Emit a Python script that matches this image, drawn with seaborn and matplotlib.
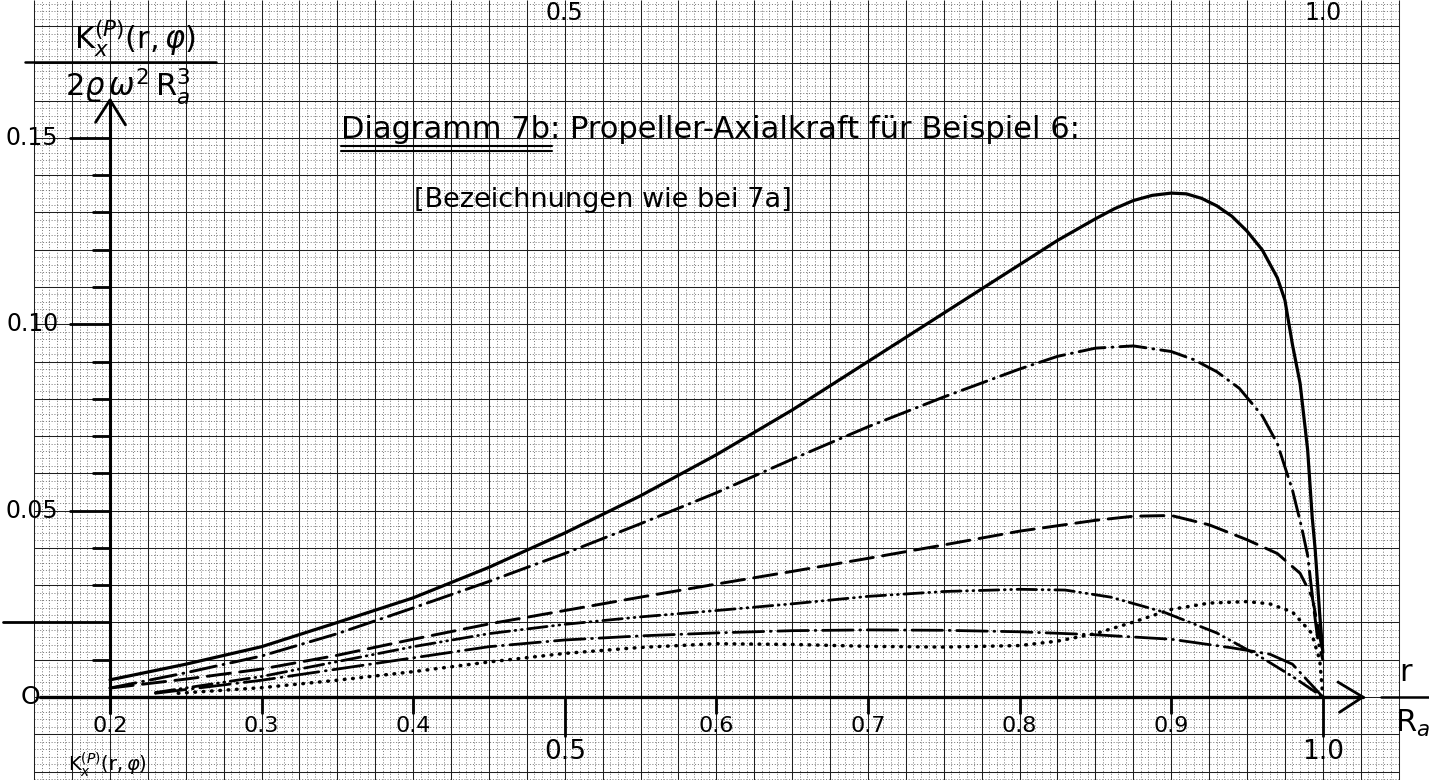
import numpy as np
import matplotlib
matplotlib.use("Agg")
import matplotlib.pyplot as plt
import seaborn as sns

# r / R_a positions and axial force coefficients K_x / (2 rho omega^2 R_a^3)
r_solid = [0.20, 0.25, 0.30, 0.35, 0.40, 0.45, 0.50, 0.55, 0.60, 0.65, 0.70, 0.75,
           0.80, 0.825, 0.85, 0.8625, 0.875, 0.8875, 0.90, 0.91, 0.92, 0.93, 0.94,
           0.95, 0.96, 0.97, 0.975, 0.98, 0.985, 0.99, 0.993, 0.995, 0.998, 1.0]
k_solid = [0.0046, 0.0088, 0.0135, 0.0200, 0.0266, 0.0348, 0.0440, 0.0540, 0.0650,
           0.0770, 0.0900, 0.1030, 0.1160, 0.1225, 0.1283, 0.1310, 0.1332, 0.1346,
           0.1352, 0.1350, 0.1338, 0.1318, 0.1290, 0.1250, 0.1200, 0.1125, 0.1065,
           0.0945, 0.0842, 0.0663, 0.0483, 0.0394, 0.0220, 0.0120]

r_dashdot = [0.20, 0.25, 0.30, 0.35, 0.40, 0.45, 0.50, 0.55, 0.60, 0.65, 0.70, 0.75,
             0.80, 0.825, 0.85, 0.875, 0.90, 0.915, 0.93, 0.945, 0.96, 0.97, 0.98,
             0.986, 0.99, 0.994, 0.997, 1.0]
k_dashdot = [0.0024, 0.0065, 0.0110, 0.0170, 0.0239, 0.0310, 0.0385, 0.0465, 0.0548,
             0.0638, 0.0725, 0.0805, 0.0880, 0.0914, 0.0936, 0.0942, 0.0927, 0.0905,
             0.0873, 0.0828, 0.0755, 0.0680, 0.0555, 0.0456, 0.0380, 0.0240, 0.0145,
             0.0100]

r_dash = [0.20, 0.25, 0.30, 0.35, 0.40, 0.45, 0.50, 0.55, 0.60, 0.65, 0.70, 0.75,
          0.80, 0.85, 0.875, 0.90, 0.925, 0.95, 0.97, 0.985, 0.993, 1.0]
k_dash = [0.0024, 0.0048, 0.0075, 0.0112, 0.0155, 0.0196, 0.0232, 0.0268, 0.0303,
          0.0337, 0.0372, 0.0408, 0.0445, 0.0474, 0.0485, 0.0487, 0.0462, 0.0422,
          0.0385, 0.0332, 0.0268, 0.0120]

r_dashdotdot = [0.23, 0.30, 0.35, 0.40, 0.45, 0.50, 0.55, 0.60, 0.65, 0.70, 0.75,
                0.80, 0.83, 0.86, 0.895, 0.93, 0.96, 0.98, 1.0]
k_dashdotdot = [0.0012, 0.0055, 0.0095, 0.0135, 0.0170, 0.0195, 0.0215, 0.0232,
                0.0250, 0.0270, 0.0283, 0.0289, 0.0287, 0.0268, 0.0228, 0.0172,
                0.0105, 0.0055, 0.0]

r_longdashdot = [0.23, 0.30, 0.35, 0.40, 0.45, 0.50, 0.55, 0.60, 0.65, 0.70, 0.75,
                 0.80, 0.85, 0.90, 0.94, 0.965, 0.98, 1.0]
k_longdashdot = [0.0010, 0.0045, 0.0075, 0.0105, 0.0135, 0.0153, 0.0164, 0.0172,
                 0.0178, 0.0180, 0.0179, 0.0175, 0.0167, 0.0155, 0.0132, 0.0115,
                 0.0088, 0.0]

r_dotted = [0.245, 0.30, 0.35, 0.40, 0.45, 0.50, 0.55, 0.60, 0.65, 0.70, 0.75, 0.80,
            0.825, 0.85, 0.875, 0.90, 0.925, 0.95, 0.965, 0.98, 0.9925, 0.998, 1.0]
k_dotted = [0.0010, 0.0025, 0.0045, 0.0068, 0.0094, 0.0117, 0.0133, 0.0143, 0.0141,
            0.0136, 0.0134, 0.0138, 0.0150, 0.0170, 0.0201, 0.0235, 0.0252, 0.0256,
            0.0250, 0.0228, 0.0172, 0.0099, 0.0]

x_ticks = [0.2, 0.3, 0.4, 0.5, 0.6, 0.7, 0.8, 0.9, 1.0]
x_tick_labels = ["0.2", "0.3", "0.4", "0.5", "0.6", "0.7", "0.8", "0.9", "1.0"]
y_ticks = [0.05, 0.10, 0.15]
y_tick_labels = ["0.05", "0.10", "0.15"]

sns.set_theme(style="white")
plt.rcParams["font.family"] = ["DejaVu Sans"]
plt.rcParams["mathtext.fontset"] = "dejavusans"

fig = plt.figure(figsize=(14.29, 7.80), dpi=100)
ax = fig.add_axes([0, 0, 1, 1])
X0, X1 = 0.127441, 1.070053
Y0, Y1 = -0.022270, 0.187014
ax.set_xlim(X0, X1)
ax.set_ylim(Y0, Y1)
ax.axis("off")

# millimetre paper
ink = "black"
fine_x = np.arange(0.15, 1.0501, 0.005)
fine_y = np.arange(-0.022, 0.1871, 0.002)
ax.vlines(fine_x, Y0, Y1, colors="0.3", lw=0.5, linestyles=(0, (1.5, 2.6)), zorder=0)
ax.hlines(fine_y, 0.15, 1.05, colors="0.3", lw=0.5, linestyles=(0, (1.5, 2.6)), zorder=0)
mid_x = np.arange(0.15, 1.0501, 0.025)
mid_y = np.arange(-0.02, 0.1801, 0.01)
ax.vlines(mid_x, Y0, Y1, colors="0.12", lw=0.75, zorder=0)
ax.hlines(mid_y, 0.15, 1.05, colors="0.12", lw=0.75, zorder=0)

# axes with arrows
ax.plot([0.154, 1.0264], [0, 0], color=ink, lw=2.4, solid_capstyle="round", zorder=3)
ax.plot([1.010, 1.0264, 1.011], [0.0040, 0, -0.0041], color=ink, lw=2.0,
        solid_capstyle="round", zorder=3)
ax.plot([0.2, 0.2], [-0.0043, 0.1602], color=ink, lw=2.2, zorder=3)
ax.plot([0.1905, 0.2, 0.2102], [0.1542, 0.1602, 0.1535], color=ink, lw=2.0,
        solid_capstyle="round", zorder=3)

for xv in x_ticks:
    low = -0.0105 if xv in (0.5, 1.0) else -0.0042
    ax.plot([xv, xv], [0, low], color=ink, lw=2.0, zorder=3)

for yv in np.arange(0.01, 0.1401, 0.01):
    yv = round(yv, 2)
    if yv in y_ticks:
        left = 0.2 - 0.0264
    elif yv == 0.02:
        left = 0.2 - 0.0706
    else:
        left = 0.2 - 0.0112
    ax.plot([left, 0.2], [yv, yv], color=ink, lw=2.0, zorder=3)
ax.plot([0.2 - 0.0264, 0.2], [0.15, 0.15], color=ink, lw=2.0, zorder=3)

# curves
styles = [
    (r_solid, k_solid, "-", 2.3),
    (r_dashdot, k_dashdot, (0, (9, 2.4, 0.3, 2.4)), 2.1),
    (r_dash, k_dash, (0, (8, 3.2)), 2.1),
    (r_dashdotdot, k_dashdotdot, (0, (7, 2.0, 0.3, 2.0, 0.3, 2.0)), 2.0),
    (r_longdashdot, k_longdashdot, (0, (11, 2.4, 0.3, 2.4)), 2.0),
    (r_dotted, k_dotted, (0, (0.2, 2.2)), 2.5),
]
for rr, kk, ls, lw in styles:
    sns.lineplot(x=rr, y=kk, ax=ax, color=ink, lw=lw, estimator=None, sort=False,
                 zorder=4)
    line = ax.lines[-1]
    line.set_linestyle(ls)
    line.set_dash_capstyle("round")
    line.set_solid_capstyle("round")
    line.set_solid_joinstyle("round")

# tick labels
for xv, lab in zip(x_ticks, x_tick_labels):
    big = xv in (0.5, 1.0)
    ax.text(xv, -0.0148 if big else -0.0078, lab, ha="center", va="center",
            fontsize=19 if big else 16, color=ink, zorder=5)
for yv, lab in zip(y_ticks, y_tick_labels):
    ax.text(0.2 - 0.034, yv, lab, ha="right", va="center", fontsize=17, color=ink,
            zorder=5)
ax.text(0.2 - 0.0525, 0.0, "O", ha="center", va="center", fontsize=18, color=ink,
        zorder=5)

# labels of the neighbouring diagrams at the sheet edges
ax.text(0.5, Y1 - 0.0002, "0.5", ha="center", va="top", fontsize=17, color=ink)
ax.text(1.0, Y1 - 0.0002, "1.0", ha="center", va="top", fontsize=17, color=ink)
ax.text(0.172, Y0 + 0.0002, r"$\mathrm{K}_x^{(P)}(\mathrm{r},\varphi)$", ha="left",
        va="bottom", fontsize=14, color=ink)

# axis titles as fractions
ax.text(0.2165, 0.1712, r"$\mathrm{K}_x^{(P)}(\mathrm{r},\varphi)$", ha="center",
        va="bottom", fontsize=22, color=ink)
ax.plot([0.2 - 0.0562, 0.2 + 0.0699], [0.1704, 0.1704], color=ink, lw=1.8)
ax.text(0.2119, 0.1693, r"$2\varrho\,\omega^2\, \mathrm{R}_a^3$", ha="center",
        va="top", fontsize=22, color=ink)

ax.text(1.0549, 0.0026, r"$\mathrm{r}$", ha="center", va="bottom", fontsize=22,
        color=ink)
ax.plot([1.0385, 1.0700], [0.0, 0.0], color=ink, lw=1.8)
ax.text(1.0595, -0.0030, r"$\mathrm{R}_a$", ha="center", va="top", fontsize=22,
        color=ink)

# heading
ax.text(0.3524, 0.1500, "Diagramm 7b: Propeller-Axialkraft für Beispiel 6:",
        ha="left", va="baseline", fontsize=22, color=ink, zorder=5)
ax.plot([0.3524, 0.4916], [0.1478, 0.1478], color=ink, lw=1.5)
ax.plot([0.3524, 0.4916], [0.1466, 0.1466], color=ink, lw=1.5)
ax.text(0.4005, 0.1315, "[Bezeichnungen wie bei 7a]", ha="left", va="baseline",
        fontsize=19.5, color=ink, zorder=5)

fig.savefig("out.png", dpi=100, facecolor="white")
